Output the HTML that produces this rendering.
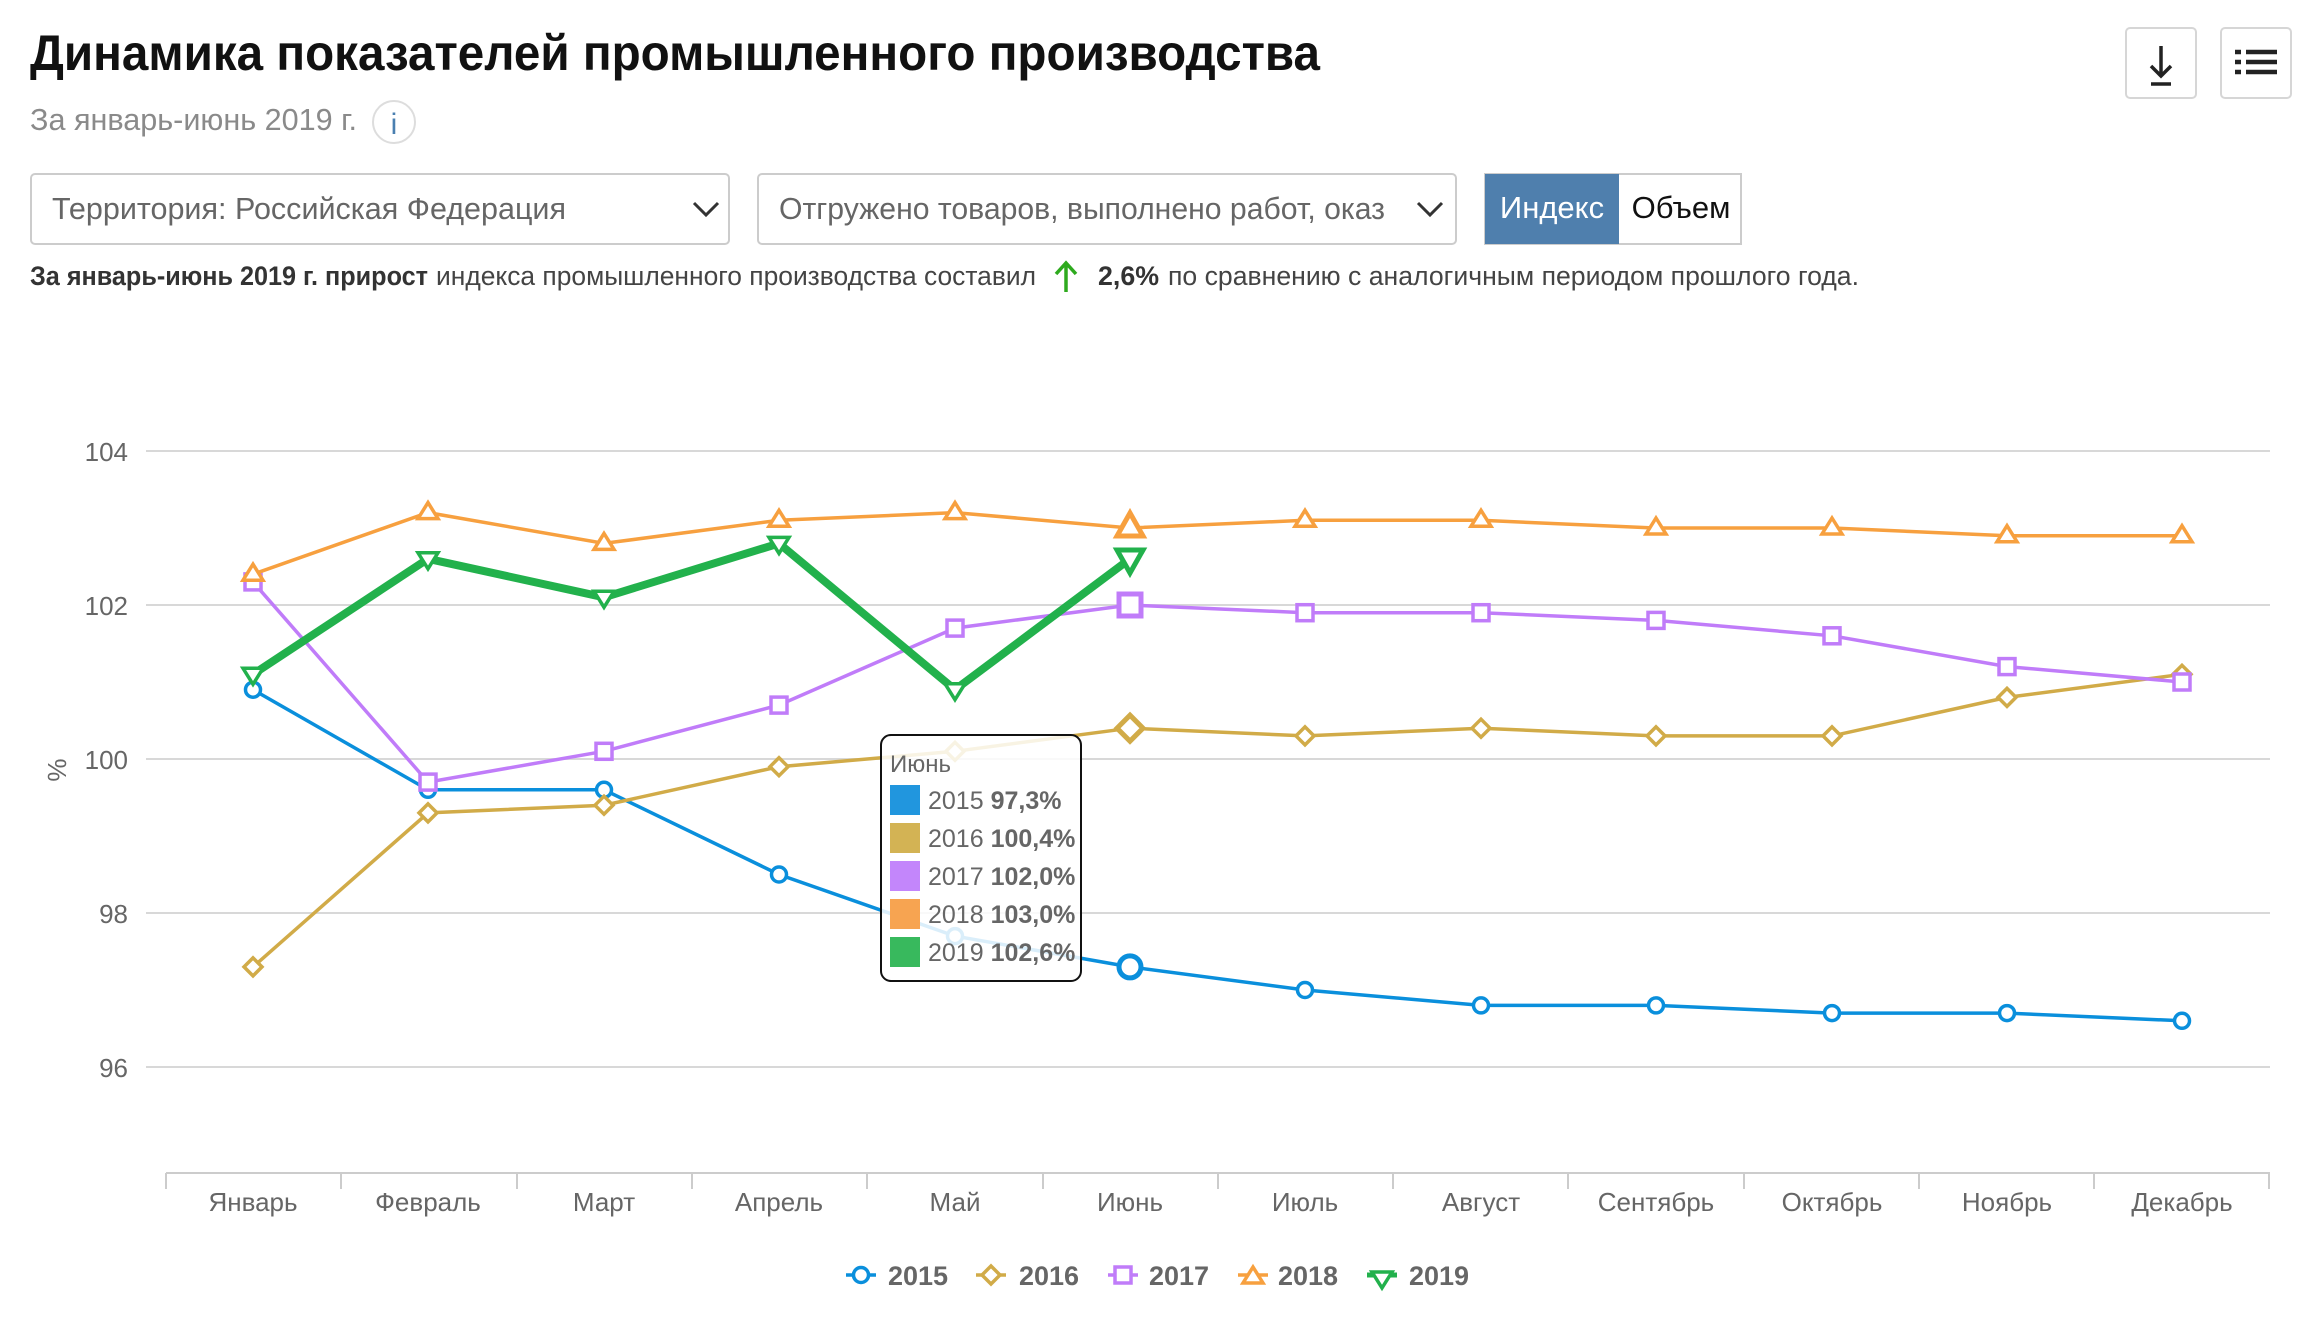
<!DOCTYPE html>
<html><head><meta charset="utf-8"><style>
html,body{margin:0;padding:0;background:#fff;}
svg{display:block;font-family:"Liberation Sans",sans-serif;}
</style></head><body>
<svg width="2318" height="1320" viewBox="0 0 2318 1320" xmlns="http://www.w3.org/2000/svg">
<defs>
<circle id="mc" r="7.5" fill="#fff" stroke="#0a8fdc" stroke-width="3.5"/>
<circle id="mcb" r="11" fill="#fff" stroke="#0a8fdc" stroke-width="5"/>
<polygon id="md" points="0,-9 9,0 0,9 -9,0" fill="#fff" stroke="#d1ab48" stroke-width="3.5"/>
<polygon id="mdb" points="0,-13 13,0 0,13 -13,0" fill="#fff" stroke="#d1ab48" stroke-width="5"/>
<rect id="ms" x="-8" y="-8" width="16" height="16" fill="#fff" stroke="#c07cf9" stroke-width="3.5"/>
<rect id="msb" x="-11" y="-11" width="22" height="22" fill="#fff" stroke="#c07cf9" stroke-width="5"/>
<polygon id="mt" points="0,-10 10,6 -10,6" fill="#fff" stroke="#f7a03f" stroke-width="3.5"/>
<polygon id="mtb" points="0,-15 13,8 -13,8" fill="#fff" stroke="#f7a03f" stroke-width="5"/>
<polygon id="mv" points="0,10 10,-6 -10,-6" fill="#fff" stroke="#22b14c" stroke-width="3.5"/>
<polygon id="mvb" points="0,13 13,-10 -13,-10" fill="#fff" stroke="#22b14c" stroke-width="5"/>
</defs>
<!-- header -->
<text x="30" y="70" font-size="50" font-weight="bold" fill="#111" textLength="1290" lengthAdjust="spacingAndGlyphs">Динамика показателей промышленного производства</text>
<text x="30" y="130" font-size="31" fill="#8a8a8a" textLength="327" lengthAdjust="spacingAndGlyphs">За январь-июнь 2019 г.</text>
<circle cx="394" cy="122" r="21" fill="#fff" stroke="#ddd" stroke-width="2"/>
<text x="394" y="134" font-size="30" fill="#4a7fb0" text-anchor="middle">i</text>
<rect x="2136" y="28" width="70" height="70" rx="4" fill="#fff" stroke="#d6d6d6" stroke-width="2" transform="translate(-10,0)"/>
<path d="M2161 46 V76 M2151 66 L2161 76 L2171 66 M2151 84 H2171" stroke="#222" stroke-width="3.5" fill="none"/>
<rect x="2221" y="28" width="70" height="70" rx="4" fill="#fff" stroke="#d6d6d6" stroke-width="2"/>
<path d="M2235 52 H2241 M2246 52 H2277 M2235 62 H2241 M2246 62 H2277 M2235 72 H2241 M2246 72 H2277" stroke="#222" stroke-width="4.5"/>
<rect x="31" y="174" width="698" height="70" rx="4" fill="#fff" stroke="#ccc" stroke-width="2"/>
<text x="52" y="219" font-size="31" fill="#666" textLength="514" lengthAdjust="spacingAndGlyphs">Территория: Российская  Федерация</text>
<path d="M694 203 L706 215 L718 203" stroke="#333" stroke-width="3" fill="none"/>
<rect x="758" y="174" width="698" height="70" rx="4" fill="#fff" stroke="#ccc" stroke-width="2"/>
<text x="779" y="219" font-size="31" fill="#666" textLength="606" lengthAdjust="spacingAndGlyphs">Отгружено товаров, выполнено работ, оказ</text>
<path d="M1418 203 L1430 215 L1442 203" stroke="#333" stroke-width="3" fill="none"/>
<rect x="1485" y="174" width="256" height="70" fill="#fff" stroke="#ccc" stroke-width="2"/>
<rect x="1485" y="174" width="134" height="70" fill="#4f7fad"/>
<text x="1552" y="218" font-size="31" fill="#fff" text-anchor="middle">Индекс</text>
<text x="1681" y="218" font-size="31" fill="#111" text-anchor="middle">Объем</text>
<text x="30" y="285" font-size="27" font-weight="bold" fill="#333" textLength="398" lengthAdjust="spacingAndGlyphs">За январь-июнь 2019 г. прирост</text>
<text x="436" y="285" font-size="27" fill="#444" textLength="600" lengthAdjust="spacingAndGlyphs">индекса промышленного производства составил</text>
<path d="M1066 292 V264 M1056 274 L1066 263 L1076 274" stroke="#2eaa1e" stroke-width="3.5" fill="none"/>
<text x="1098" y="285" font-size="27" font-weight="bold" fill="#333" textLength="61" lengthAdjust="spacingAndGlyphs">2,6%</text>
<text x="1168" y="285" font-size="27" fill="#444" textLength="691" lengthAdjust="spacingAndGlyphs">по сравнению с аналогичным периодом прошлого года.</text>
<!-- grid -->
<g stroke="#d8d8d8" stroke-width="2">
<line x1="146" y1="451" x2="2270" y2="451"/>
<line x1="146" y1="605" x2="2270" y2="605"/>
<line x1="146" y1="759" x2="2270" y2="759"/>
<line x1="146" y1="913" x2="2270" y2="913"/>
<line x1="146" y1="1067" x2="2270" y2="1067"/>
</g>
<g font-size="26" fill="#666" text-anchor="end">
<text x="128" y="461">104</text><text x="128" y="615">102</text><text x="128" y="769">100</text><text x="128" y="923">98</text><text x="128" y="1077">96</text>
</g>
<text transform="translate(66,770) rotate(-90)" font-size="26" fill="#666" text-anchor="middle">%</text>
<g stroke="#ccc" stroke-width="2">
<line x1="166" y1="1173" x2="2270" y2="1173"/>
<line x1="166" y1="1173" x2="166" y2="1189"/><line x1="341" y1="1173" x2="341" y2="1189"/><line x1="517" y1="1173" x2="517" y2="1189"/><line x1="692" y1="1173" x2="692" y2="1189"/><line x1="867" y1="1173" x2="867" y2="1189"/><line x1="1043" y1="1173" x2="1043" y2="1189"/><line x1="1218" y1="1173" x2="1218" y2="1189"/><line x1="1393" y1="1173" x2="1393" y2="1189"/><line x1="1568" y1="1173" x2="1568" y2="1189"/><line x1="1744" y1="1173" x2="1744" y2="1189"/><line x1="1919" y1="1173" x2="1919" y2="1189"/><line x1="2094" y1="1173" x2="2094" y2="1189"/><line x1="2269" y1="1173" x2="2269" y2="1189"/>
</g>
<g font-size="26" fill="#666" text-anchor="middle">
<text x="253" y="1211">Январь</text><text x="428" y="1211">Февраль</text><text x="604" y="1211">Март</text><text x="779" y="1211">Апрель</text><text x="955" y="1211">Май</text><text x="1130" y="1211">Июнь</text><text x="1305" y="1211">Июль</text><text x="1481" y="1211">Август</text><text x="1656" y="1211">Сентябрь</text><text x="1832" y="1211">Октябрь</text><text x="2007" y="1211">Ноябрь</text><text x="2182" y="1211">Декабрь</text>
</g>
<!-- 2015 -->
<polyline fill="none" stroke="#0a8fdc" stroke-width="3.5" points="253,689.7 428,789.8 604,789.8 779,874.5 955,936.1 1130,966.9 1305,990 1481,1005.4 1656,1005.4 1832,1013.1 2007,1013.1 2182,1020.8"/>
<use href="#mc" x="253" y="689.7"/><use href="#mc" x="428" y="789.8"/><use href="#mc" x="604" y="789.8"/><use href="#mc" x="779" y="874.5"/><use href="#mc" x="955" y="936.1"/><use href="#mcb" x="1130" y="966.9"/><use href="#mc" x="1305" y="990"/><use href="#mc" x="1481" y="1005.4"/><use href="#mc" x="1656" y="1005.4"/><use href="#mc" x="1832" y="1013.1"/><use href="#mc" x="2007" y="1013.1"/><use href="#mc" x="2182" y="1020.8"/>
<!-- 2016 -->
<polyline fill="none" stroke="#d1ab48" stroke-width="3.5" points="253,966.9 428,812.9 604,805.2 779,766.7 955,751.3 1130,728.2 1305,735.9 1481,728.2 1656,735.9 1832,735.9 2007,697.4 2182,674.3"/>
<use href="#md" x="253" y="966.9"/><use href="#md" x="428" y="812.9"/><use href="#md" x="604" y="805.2"/><use href="#md" x="779" y="766.7"/><use href="#md" x="955" y="751.3"/><use href="#mdb" x="1130" y="728.2"/><use href="#md" x="1305" y="735.9"/><use href="#md" x="1481" y="728.2"/><use href="#md" x="1656" y="735.9"/><use href="#md" x="1832" y="735.9"/><use href="#md" x="2007" y="697.4"/><use href="#md" x="2182" y="674.3"/>
<!-- 2017 -->
<polyline fill="none" stroke="#c07cf9" stroke-width="3.5" points="253,581.9 428,782.1 604,751.3 779,705.1 955,628.1 1130,605 1305,612.7 1481,612.7 1656,620.4 1832,635.8 2007,666.6 2182,682"/>
<use href="#ms" x="253" y="581.9"/><use href="#ms" x="428" y="782.1"/><use href="#ms" x="604" y="751.3"/><use href="#ms" x="779" y="705.1"/><use href="#ms" x="955" y="628.1"/><use href="#msb" x="1130" y="605"/><use href="#ms" x="1305" y="612.7"/><use href="#ms" x="1481" y="612.7"/><use href="#ms" x="1656" y="620.4"/><use href="#ms" x="1832" y="635.8"/><use href="#ms" x="2007" y="666.6"/><use href="#ms" x="2182" y="682"/>
<!-- 2018 -->
<polyline fill="none" stroke="#f7a03f" stroke-width="3.5" points="253,574.2 428,512.6 604,543.4 779,520.3 955,512.6 1130,528 1305,520.3 1481,520.3 1656,528 1832,528 2007,535.7 2182,535.7"/>
<use href="#mt" x="253" y="574.2"/><use href="#mt" x="428" y="512.6"/><use href="#mt" x="604" y="543.4"/><use href="#mt" x="779" y="520.3"/><use href="#mt" x="955" y="512.6"/><use href="#mtb" x="1130" y="528"/><use href="#mt" x="1305" y="520.3"/><use href="#mt" x="1481" y="520.3"/><use href="#mt" x="1656" y="528"/><use href="#mt" x="1832" y="528"/><use href="#mt" x="2007" y="535.7"/><use href="#mt" x="2182" y="535.7"/>
<!-- 2019 -->
<polyline fill="none" stroke="#22b14c" stroke-width="8" stroke-linejoin="round" points="253,674.3 428,558.8 604,597.3 779,543.4 955,689.7 1130,558.8"/>
<use href="#mv" x="253" y="674.3"/><use href="#mv" x="428" y="558.8"/><use href="#mv" x="604" y="597.3"/><use href="#mv" x="779" y="543.4"/><use href="#mv" x="955" y="689.7"/><use href="#mvb" x="1130" y="560"/>
<!-- tooltip -->
<g transform="translate(-5,-4)">
<rect x="886" y="739" width="200" height="246" rx="10" fill="#fff" fill-opacity="0.85" stroke="#111" stroke-width="2"/>
<text x="895" y="776" font-size="24" fill="#666">Июнь</text>
<g font-size="25" fill="#666">
<rect x="895" y="789" width="30" height="30" fill="#2196de"/><text x="933" y="813">2015 <tspan font-weight="bold">97,3%</tspan></text>
<rect x="895" y="827" width="30" height="30" fill="#d3b354"/><text x="933" y="851">2016 <tspan font-weight="bold">100,4%</tspan></text>
<rect x="895" y="865" width="30" height="30" fill="#c386fb"/><text x="933" y="889">2017 <tspan font-weight="bold">102,0%</tspan></text>
<rect x="895" y="903" width="30" height="30" fill="#f7a451"/><text x="933" y="927">2018 <tspan font-weight="bold">103,0%</tspan></text>
<rect x="895" y="941" width="30" height="30" fill="#38b95d"/><text x="933" y="965">2019 <tspan font-weight="bold">102,6%</tspan></text>
</g>
</g>
<!-- legend -->
<g font-size="27" font-weight="bold" fill="#666">
<line x1="846" y1="1275" x2="876" y2="1275" stroke="#0a8fdc" stroke-width="3.5"/><use href="#mc" x="861" y="1275"/><text x="888" y="1285">2015</text>
<line x1="976" y1="1275" x2="1006" y2="1275" stroke="#d1ab48" stroke-width="3.5"/><use href="#md" x="991" y="1275"/><text x="1019" y="1285">2016</text>
<line x1="1108" y1="1275" x2="1138" y2="1275" stroke="#c07cf9" stroke-width="3.5"/><use href="#ms" x="1123" y="1275"/><text x="1149" y="1285">2017</text>
<line x1="1238" y1="1275" x2="1268" y2="1275" stroke="#f7a03f" stroke-width="3.5"/><use href="#mt" x="1253" y="1277"/><text x="1278" y="1285">2018</text>
<line x1="1367" y1="1275" x2="1397" y2="1275" stroke="#22b14c" stroke-width="5"/><use href="#mv" x="1382" y="1278"/><text x="1409" y="1285">2019</text>
</g>
</svg>
</body></html>
